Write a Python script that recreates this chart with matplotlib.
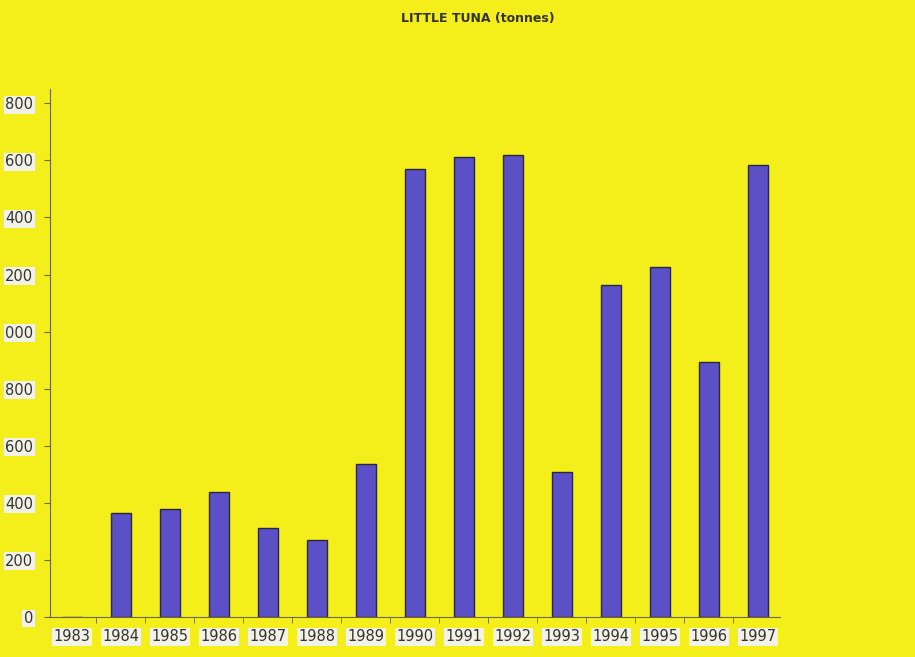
import matplotlib.pyplot as plt
import numpy as np

years = ['1983', '1984', '1985', '1986', '1987', '1988', '1989', '1990',
         '1991', '1992', '1993', '1994', '1995', '1996', '1997']
catch_t = [0, 364, 378, 438, 312, 270, 536, 1569, 1611, 1618, 508, 1163, 1226, 893, 1583]
yticks = [0, 200, 400, 600, 800, 1000, 1200, 1400, 1600, 1800]
# the scan cuts off the leading "1" of the upper labels
ytick_labels = ['0', '200', '400', '600', '800', '000', '200', '400', '600', '800']

bg = '#f4ee1a'
fig = plt.figure(figsize=(9.15, 6.57), dpi=100, facecolor=bg)
ax = fig.add_axes([0.0546, 0.0609, 0.7974, 0.8036], facecolor=bg)

x = np.arange(len(years))
ax.bar(x, catch_t, width=0.41, color='#5c50c6', edgecolor='#2a2640', linewidth=1.0)

ax.set_xlim(-0.45, len(years) - 0.55)
ax.set_ylim(0, 1850)
ax.set_yticks(yticks)
ax.set_yticklabels(ytick_labels)
ax.set_xticks(x)
ax.set_xticklabels(years)
ax.set_xticks(x[:-1] + 0.5, minor=True)

for s in ['top', 'right']:
    ax.spines[s].set_visible(False)
for s in ['left', 'bottom']:
    ax.spines[s].set_color('#6a6a30')
    ax.spines[s].set_linewidth(0.8)

ax.tick_params(axis='y', length=4, width=0.8, color='#6a6a30', pad=8, labelsize=10.5)
ax.tick_params(axis='x', which='major', length=0, pad=9, labelsize=10.5)
ax.tick_params(axis='x', which='minor', length=4, width=0.6, color='#6a6a30')

for lab in ax.get_xticklabels() + ax.get_yticklabels():
    lab.set_color('#333333')
    lab.set_bbox(dict(facecolor='#f2f2e6', edgecolor='none', pad=1))

fig.text(0.522, 0.972, 'LITTLE TUNA (tonnes)', ha='center', va='center',
         fontsize=9, fontweight='bold', color='#333333')

fig.savefig('out.png', facecolor=bg)
